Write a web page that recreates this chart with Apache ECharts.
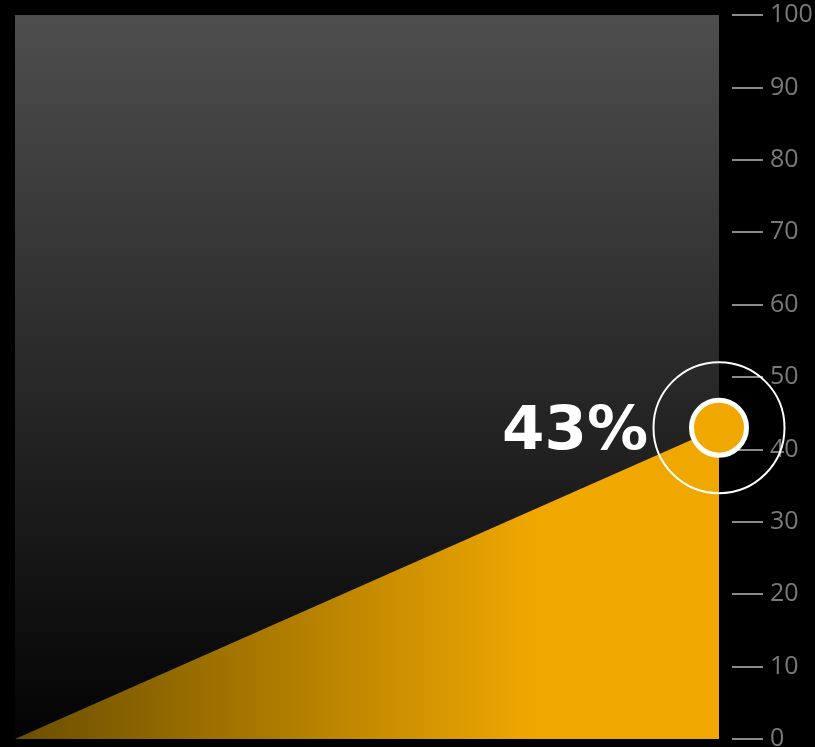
<!DOCTYPE html>
<html><head><meta charset="utf-8">
<script src="https://cdn.jsdelivr.net/npm/echarts@6/dist/echarts.min.js"></script>
<style>html,body{margin:0;padding:0;background:#000;}#c{width:815px;height:747px;}</style>
</head><body><div id="c"></div>
<script>
const xValues = [0, 1];
const yValues = [0, 43];
const yTicks = [0, 10, 20, 30, 40, 50, 60, 70, 80, 90, 100];
const labelText = '43%';

const chart = echarts.init(document.getElementById('c'));
const pts = xValues.map((x, i) => [x, yValues[i]]);
const last = pts[pts.length - 1];
chart.setOption({
  backgroundColor: '#000',
  animation: false,
  grid: {
    left: 15, right: 96, top: 15, bottom: 8, outerBoundsMode: 'none', containLabel: false,
    show: true, borderWidth: 0,
    backgroundColor: new echarts.graphic.LinearGradient(0, 0, 0, 1, [
      { offset: 0, color: '#4e4e4e' },
      { offset: 1, color: '#030303' }
    ])
  },
  xAxis: { type: 'value', min: 0, max: 1, show: false },
  yAxis: {
    type: 'value', position: 'right', min: yTicks[0], max: yTicks[yTicks.length - 1], interval: 10,
    offset: 13,
    axisLine: { show: false, onZero: false },
    axisTick: { show: true, length: 31, lineStyle: { color: '#8a8a8a', width: 2 } },
    axisLabel: { margin: 38, color: '#7a7a7a', fontSize: 25, fontFamily: 'Open Sans' },
    splitLine: { show: false }
  },
  series: [
    {
      type: 'line', data: pts, symbol: 'none', lineStyle: { width: 0 },
      z: 2,
      areaStyle: {
        opacity: 1,
        color: new echarts.graphic.LinearGradient(0, 0, 1, 0, [
          { offset: 0, color: '#6a4e00' },
          { offset: 0.74, color: '#f0a800' },
          { offset: 1, color: '#f0a800' }
        ])
      }
    },
    {
      type: 'scatter', data: [last], symbolSize: 131, z: 5, silent: true,
      itemStyle: { opacity: 1, color: 'rgba(0,0,0,0)', borderColor: '#fff', borderWidth: 2 }
    },
    {
      type: 'scatter', data: [last], symbolSize: 55, z: 6, silent: true,
      itemStyle: { opacity: 1, color: '#f0a800', borderColor: '#fff', borderWidth: 5 },
      label: {
        show: true, position: 'left', distance: 41, offset: [0, 5],
        formatter: labelText, opacity: 1,
        color: '#fff', fontSize: 61, fontWeight: 'bold', fontFamily: 'DejaVu Sans'
      }
    }
  ]
});
</script></body></html>
